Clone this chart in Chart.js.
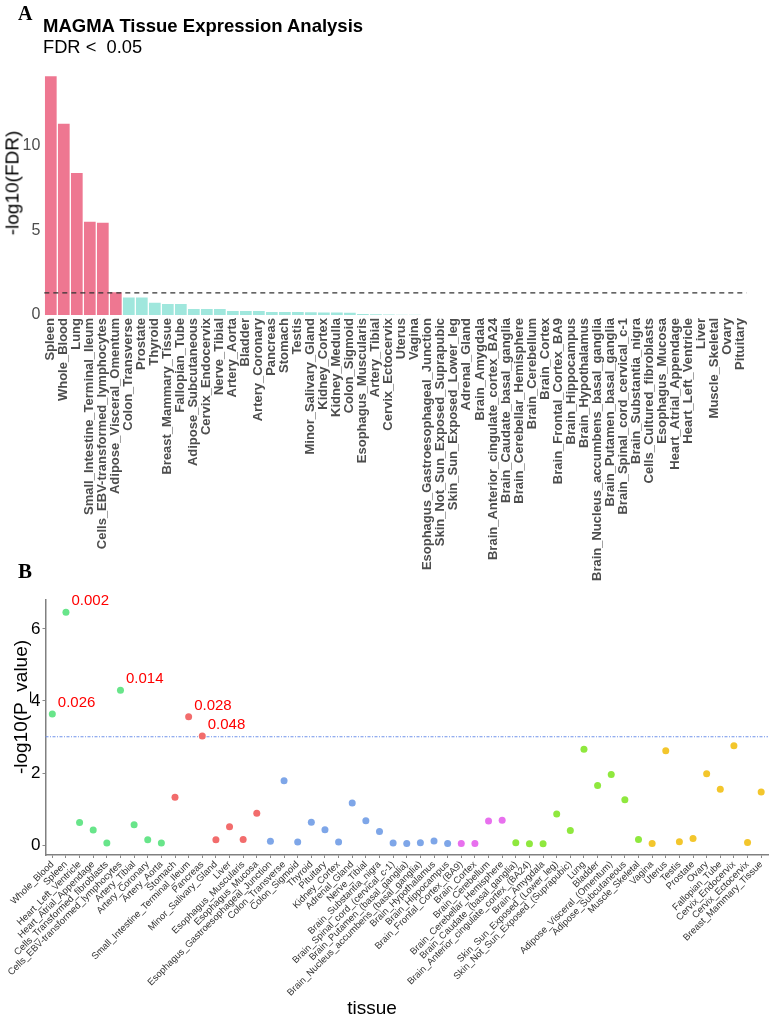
<!DOCTYPE html>
<html>
<head>
<meta charset="utf-8">
<script src="https://cdn.jsdelivr.net/npm/chart.js@4.4.1/dist/chart.umd.min.js"></script>
<style>
  html, body { margin: 0; padding: 0; background: #fff; }
  body { width: 776px; height: 1018px; position: relative; overflow: hidden; font-family: "Liberation Sans", Arial, sans-serif; }
  canvas { position: absolute; left: 0; }
  #chartA { top: 0; }
  #chartB { top: 520px; }
  .txt { position: absolute; white-space: nowrap; line-height: 1; color: #000; }
  .panel { font-family: "Liberation Serif", "Times New Roman", serif; font-weight: bold; }
  .ytitle { transform: translate(-50%, -50%) rotate(-90deg); }
</style>
</head>
<body>
<canvas id="chartA" width="776" height="620"></canvas>
<canvas id="chartB" width="776" height="498"></canvas>

<div class="txt panel" style="left:18px; top:3px; font-size:20px;">A</div>
<div class="txt" style="left:43px; top:17px; font-size:18.5px; font-weight:bold;">MAGMA Tissue Expression Analysis</div>
<div class="txt" style="left:43px; top:38px; font-size:18.3px;">FDR &lt;&nbsp; 0.05</div>
<div class="txt ytitle" style="left:12px; top:183px; font-size:19px;">-log10(FDR)</div>

<div class="txt panel" style="left:18px; top:561px; font-size:21px;">B</div>
<div class="txt ytitle" style="left:20px; top:707px; font-size:19px;">-log10(P_value)</div>
<div class="txt" style="left:372px; top:1007px; font-size:19px; transform: translate(-50%, -50%);">tissue</div>

<script>
// ---- panel A: MAGMA tissue expression, -log10(FDR)
const tissuesA = [
  'Spleen', 'Whole_Blood', 'Lung', 'Small_Intestine_Terminal_Ileum',
  'Cells_EBV-transformed_lymphocytes', 'Adipose_Visceral_Omentum', 'Colon_Transverse',
  'Prostate', 'Thyroid', 'Breast_Mammary_Tissue', 'Fallopian_Tube', 'Adipose_Subcutaneous',
  'Cervix_Endocervix', 'Nerve_Tibial', 'Artery_Aorta', 'Bladder', 'Artery_Coronary',
  'Pancreas', 'Stomach', 'Testis', 'Minor_Salivary_Gland', 'Kidney_Cortex', 'Kidney_Medulla',
  'Colon_Sigmoid', 'Esophagus_Muscularis', 'Artery_Tibial', 'Cervix_Ectocervix', 'Uterus',
  'Vagina', 'Esophagus_Gastroesophageal_Junction', 'Skin_Not_Sun_Exposed_Suprapubic',
  'Skin_Sun_Exposed_Lower_leg', 'Adrenal_Gland', 'Brain_Amygdala',
  'Brain_Anterior_cingulate_cortex_BA24', 'Brain_Caudate_basal_ganglia',
  'Brain_Cerebellar_Hemisphere', 'Brain_Cerebellum', 'Brain_Cortex', 'Brain_Frontal_Cortex_BA9',
  'Brain_Hippocampus', 'Brain_Hypothalamus', 'Brain_Nucleus_accumbens_basal_ganglia',
  'Brain_Putamen_basal_ganglia', 'Brain_Spinal_cord_cervical_c-1', 'Brain_Substantia_nigra',
  'Cells_Cultured_fibroblasts', 'Esophagus_Mucosa', 'Heart_Atrial_Appendage',
  'Heart_Left_Ventricle', 'Liver', 'Muscle_Skeletal', 'Ovary', 'Pituitary'
];
const fdrScores = [
  14.1, 11.29, 8.38, 5.51, 5.45, 1.34, 1.04, 1.03, 0.73, 0.65, 0.65, 0.36,
  0.35, 0.35, 0.24, 0.23, 0.23, 0.18, 0.18, 0.18, 0.16, 0.15, 0.15, 0.13,
  0.06, 0.04, 0.03, 0.02, 0.01, 0.005, 0.004, 0.004, 0.003, 0.002, 0.002, 0.002,
  0.001, 0.001, 0.001, 0.001, 0.001, 0.001, 0.001, 0.001, 0.001, 0.001,
  0, 0, 0, 0, 0, 0, 0, 0
];
const fdrCutoff = 1.301; // -log10(0.05)

// ---- panel B: -log10(P) per tissue, ordered by tissue group
const tissuesB = [
  'Whole_Blood', 'Spleen', 'Heart_Left_Ventricle', 'Heart_Atrial_Appendage',
  'Cells_Transformed_fibroblasts', 'Cells_EBV-transformed_lymphocytes', 'Artery_Tibial',
  'Artery_Coronary', 'Artery_Aorta',
  'Stomach', 'Small_Intestine_Terminal_Ileum', 'Pancreas', 'Minor_Salivary_Gland', 'Liver',
  'Esophagus_Muscularis', 'Esophagus_Mucosa',
  'Esophagus_Gastroesophageal_Junction', 'Colon_Transverse', 'Colon_Sigmoid', 'Thyroid',
  'Pituitary', 'Kidney_Cortex', 'Adrenal_Gland', 'Nerve_Tibial', 'Brain_Substantia_nigra',
  'Brain_Spinal_cord_(cervical_c-1)', 'Brain_Putamen_(basal_ganglia)',
  'Brain_Nucleus_accumbens_(basal_ganglia)', 'Brain_Hypothalamus', 'Brain_Hippocampus',
  'Brain_Frontal_Cortex_(BA9)', 'Brain_Cortex', 'Brain_Cerebellum', 'Brain_Cerebellar_Hemisphere',
  'Brain_Caudate_(basal_ganglia)', 'Brain_Anterior_cingulate_cortex_(BA24)', 'Brain_Amygdala',
  'Skin_Sun_Exposed_(Lower_leg)', 'Skin_Not_Sun_Exposed_(Suprapubic)', 'Lung', 'Bladder',
  'Adipose_Visceral_(Omentum)', 'Adipose_Subcutaneous', 'Muscle_Skeletal',
  'Vagina', 'Uterus', 'Testis', 'Prostate', 'Ovary', 'Fallopian_Tube', 'Cervix_Endocervix',
  'Cervix_Ectocervix', 'Breast_Mammary_Tissue'
];
const pScores = [
  3.64, 6.46, 0.63, 0.42, 0.06, 4.30, 0.57, 0.15, 0.06,
  1.33, 3.56, 3.03, 0.15, 0.51, 0.16, 0.89,
  0.11, 1.79, 0.09, 0.64, 0.43, 0.09, 1.17, 0.68, 0.38, 0.06, 0.05, 0.07, 0.12, 0.05,
  0.05, 0.05, 0.67, 0.69,
  0.07, 0.04, 0.04, 0.87, 0.41, 2.66, 1.66, 1.96, 1.26, 0.16,
  0.05, 2.62, 0.10, 0.19, 1.98, 1.55, 2.76, 0.08, 1.48
];
const groupIndex = [
  0, 0, 0, 0, 0, 0, 0, 0, 0,
  1, 1, 1, 1, 1, 1, 1,
  2, 2, 2, 2, 2, 2, 2, 2, 2, 2, 2, 2, 2, 2,
  3, 3, 3, 3,
  4, 4, 4, 4, 4, 4, 4, 4, 4, 4,
  5, 5, 5, 5, 5, 5, 5, 5, 5
];
const groupColors = ['#68E58A', '#F26C6C', '#7EA6E8', '#E870EE', '#8FE83E', '#F3C62C'];
const pCutoff = 3.01; // -log10(0.05 / 53)

const labelTissues = ['Whole_Blood', 'Spleen', 'Cells_EBV-transformed_lymphocytes', 'Small_Intestine_Terminal_Ileum', 'Pancreas'];
const labelTexts = ['0.026', '0.002', '0.014', '0.028', '0.048'];

Chart.defaults.font.family = '"Liberation Sans", Arial, sans-serif';

// horizontal cut-off line across the plot area
const cutLine = {
  id: 'cutLine',
  draw(chart, o) {
    const { ctx, chartArea } = chart;
    const y = chart.scales.y.getPixelForValue(o.value);
    ctx.save();
    ctx.strokeStyle = o.color;
    ctx.lineWidth = o.width;
    ctx.setLineDash(o.dash);
    ctx.beginPath();
    ctx.moveTo(chartArea.left, y);
    ctx.lineTo(chartArea.right, y);
    ctx.stroke();
    ctx.restore();
  },
  beforeDatasetsDraw(chart, args, o) { if (!o.front) this.draw(chart, o); },
  afterDatasetsDraw(chart, args, o) { if (o.front) this.draw(chart, o); }
};

// p-value text next to the significant points
const pointText = {
  id: 'pointText',
  afterDatasetsDraw(chart) {
    const ctx = chart.ctx;
    const pts = chart.getDatasetMeta(0).data;
    ctx.save();
    ctx.fillStyle = '#FF0000';
    ctx.font = '15px "Liberation Sans", Arial, sans-serif';
    ctx.textAlign = 'left';
    ctx.textBaseline = 'middle';
    labelTissues.forEach((t, i) => {
      const p = pts[tissuesB.indexOf(t)];
      ctx.fillText(labelTexts[i], p.x + 5.5, p.y - 11.5);
    });
    ctx.restore();
  }
};

new Chart(document.getElementById('chartA'), {
  type: 'bar',
  data: {
    labels: tissuesA,
    datasets: [{
      data: fdrScores,
      backgroundColor: fdrScores.map(v => v > fdrCutoff ? '#EE7791' : '#A0E7DD'),
      barPercentage: 0.9,
      categoryPercentage: 1
    }]
  },
  options: {
    responsive: false,
    animation: false,
    layout: { padding: { top: 64, right: 29.5, left: 0, bottom: 0 } },
    plugins: {
      legend: { display: false },
      tooltip: { enabled: false },
      cutLine: { value: fdrCutoff, color: '#333', width: 1.3, dash: [5, 4], front: true }
    },
    scales: {
      x: {
        grid: { display: false, drawTicks: false },
        border: { display: false },
        ticks: {
          autoSkip: false, minRotation: 90, maxRotation: 90, padding: 3,
          color: '#4d4d4d', font: { size: 13, weight: 'bold' }
        },
        afterFit: s => { s.height = 620 - 315; }
      },
      y: {
        min: 0, max: 14.82,
        grid: { display: false, drawTicks: false },
        border: { display: false },
        ticks: { stepSize: 5, includeBounds: false, padding: 4, color: '#4d4d4d', font: { size: 16 } },
        afterFit: s => { s.width = 44.3; }
      }
    }
  },
  plugins: [cutLine]
});

new Chart(document.getElementById('chartB'), {
  type: 'line',
  data: {
    labels: tissuesB,
    datasets: [{
      data: pScores,
      showLine: false,
      pointRadius: 3.5,
      pointBorderWidth: 0,
      pointBackgroundColor: groupIndex.map(g => groupColors[g])
    }]
  },
  options: {
    responsive: false,
    animation: false,
    layout: { padding: { top: 80, right: 8, left: 0, bottom: 0 } },
    plugins: {
      legend: { display: false },
      tooltip: { enabled: false },
      cutLine: { value: pCutoff, color: '#7093EA', width: 1.1, dash: [3, 1.5, 1, 1.5], front: false }
    },
    scales: {
      x: {
        offset: true,
        grid: { display: true, drawOnChartArea: false, drawTicks: true, tickLength: 3, color: '#888' },
        border: { display: true, color: '#808080', width: 1.5 },
        ticks: {
          autoSkip: false, minRotation: 45, maxRotation: 45, padding: 1,
          color: '#333', font: { size: 9.5 }
        },
        afterFit: s => { s.height = 498 - 335; }
      },
      y: {
        min: -0.27, max: 6.8,
        grid: { display: true, drawOnChartArea: false, drawTicks: true, tickLength: 3, color: '#888' },
        border: { display: true, color: '#808080', width: 1.5 },
        ticks: { stepSize: 2, includeBounds: false, padding: 2, color: '#000', font: { size: 17 } },
        afterFit: s => { s.width = 45.5; }
      }
    }
  },
  plugins: [cutLine, pointText]
});
</script>
</body>
</html>
